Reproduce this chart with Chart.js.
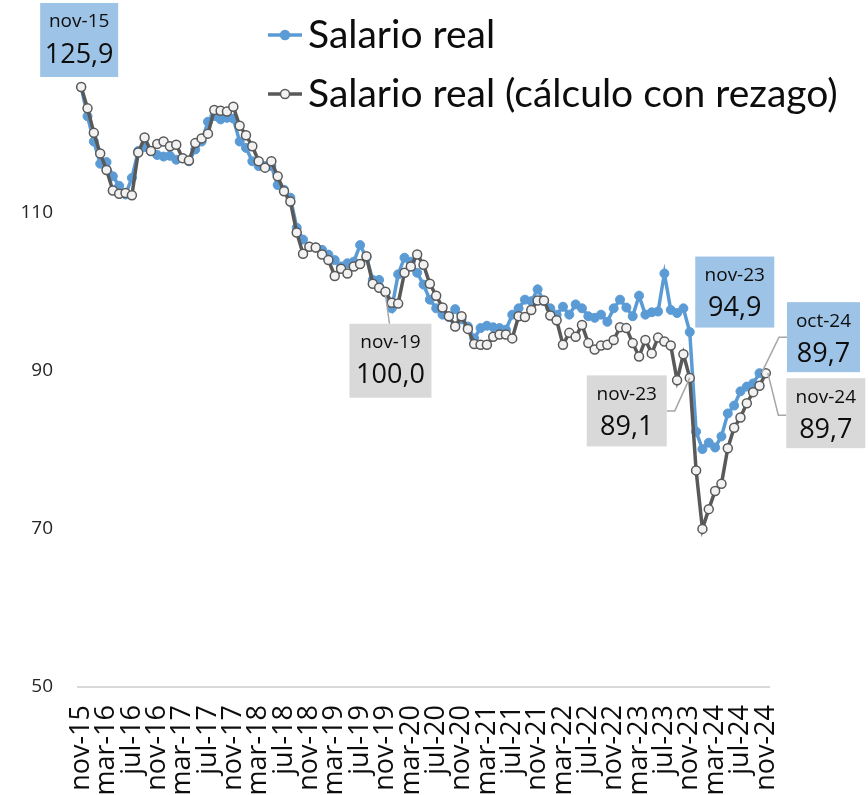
<!DOCTYPE html>
<html>
<head>
<meta charset="utf-8">
<script src="https://cdn.jsdelivr.net/npm/chart.js@4/dist/chart.umd.min.js"></script>
<style>
  body { margin: 0; background: #fff; }
  #wrap { width: 868px; height: 795px; }
</style>
</head>
<body>
<div id="wrap"><canvas id="myChart" width="868" height="795"></canvas></div>
<script>
// Month names used to build the category labels (nov-15 ... nov-24)
var monthNames = ['ene', 'feb', 'mar', 'abr', 'may', 'jun', 'jul', 'ago', 'sep', 'oct', 'nov', 'dic'];
var startMonth = 10, startYear = 15, nMonths = 109;

// Salario real (blue), nov-15 .. oct-24
var salarioReal = [
  125.9, 122.2, 119.0, 116.2, 116.4, 114.6, 113.4, 112.3, 114.4, 117.8, 118.3, 117.8,
  117.3, 117.1, 117.2, 116.7, 116.9, 116.5, 118.0, 119.0, 121.5, 122.2, 121.8, 122.0,
  121.9, 119.0, 118.2, 116.5, 115.9, 115.9, 115.9, 113.5, 112.9, 111.9, 108.1, 106.6,
  105.7, 105.6, 105.3, 104.7, 104.0, 103.2, 103.6, 103.8, 105.9, 104.3, 101.5, 101.5,
  99.9, 97.9, 102.2, 104.3, 103.8, 102.4, 100.9, 99.0, 97.9, 97.1, 96.8, 97.8,
  96.5, 95.6, 94.1, 95.4, 95.7, 95.5, 95.4, 95.2, 97.1, 97.9, 99.0, 98.8,
  100.3, 98.8, 97.9, 97.1, 98.1, 97.1, 98.4, 97.9, 96.9, 96.7, 97.1, 96.2,
  97.9, 99.0, 98.0, 96.9, 99.5, 97.1, 97.4, 97.5, 102.3, 97.7, 97.3, 97.9,
  94.9, 82.3, 80.1, 80.9, 80.3, 81.7, 84.6, 85.6, 87.4, 88.0, 88.4, 89.7
];

// Salario real (calculo con rezago) (gray), nov-15 .. nov-24
var salarioRezago = [
  125.9, 123.2, 120.1, 117.5, 115.4, 112.8, 112.4, 112.5, 112.2, 117.6, 119.5, 117.8,
  118.7, 119.0, 118.4, 118.6, 116.9, 116.6, 118.8, 119.4, 120.0, 123.0, 122.9, 122.8,
  123.4, 121.0, 119.8, 118.4, 116.5, 115.7, 116.5, 114.6, 112.7, 111.4, 107.5, 104.8,
  105.7, 105.6, 104.7, 104.0, 102.0, 102.9, 102.3, 103.2, 103.5, 104.5, 101.0, 100.5,
  100.0, 98.6, 98.5, 102.4, 103.2, 104.7, 103.4, 101.0, 99.5, 98.0, 96.9, 95.6,
  96.9, 95.3, 93.4, 93.3, 93.3, 94.3, 94.6, 94.6, 94.1, 96.9, 96.8, 97.7,
  98.9, 98.9, 97.0, 96.4, 93.3, 94.8, 94.3, 95.8, 93.5, 92.7, 93.2, 93.3,
  93.9, 95.5, 95.4, 93.5, 91.8, 93.9, 92.2, 94.2, 93.7, 93.2, 88.8, 92.1,
  89.1, 77.4, 70.0, 72.5, 74.8, 75.7, 80.2, 82.8, 84.1, 85.9, 87.3, 88.1, 89.7
];

var yTicks = [50, 70, 90, 110];

var seriesNames = ['Salario real', 'Salario real (cálculo con rezago)'];

// Callouts: [dataset, index, label, value text, box colour]
var callouts = [
  [0, 0, 'nov-15', '125,9', '#9dc3e6'],
  [1, 48, 'nov-19', '100,0', '#d9d9d9'],
  [0, 96, 'nov-23', '94,9', '#9dc3e6'],
  [1, 96, 'nov-23', '89,1', '#d9d9d9'],
  [0, 107, 'oct-24', '89,7', '#9dc3e6'],
  [1, 108, 'nov-24', '89,7', '#d9d9d9']
];
// box placement relative to the point: dx, dy (centre), w, h, leader type
var calloutLayout = [
  {dx: -2, dy: -47, w: 78, h: 74, leader: null},
  {dx: 5, dy: 69, w: 82, h: 74, leader: 'top'},
  {dx: 45, dy: -40, w: 79, h: 71, leader: null},
  {dx: -63, dy: 33, w: 80, h: 71, leader: 'left'},
  {dx: 64, dy: -36, w: 73, h: 70, leader: 'right'},
  {dx: 60, dy: 40, w: 79, h: 70, leader: 'right'}
];

var labels = [];
for (var i = 0; i < nMonths; i++) {
  var m = (startMonth + i) % 12;
  var y = startYear + Math.floor((startMonth + i) / 12);
  labels.push(monthNames[m] + '-' + y);
}

var blue = '#5b9bd5', gray = '#595959';

// Draws the boxed value labels with their leader lines
var calloutPlugin = {
  id: 'callouts',
  afterDatasetsDraw: function(chart) {
    var ctx = chart.ctx;
    ctx.save();
    for (var k = 0; k < callouts.length; k++) {
      var c = callouts[k], L = calloutLayout[k];
      var pt = chart.getDatasetMeta(c[0]).data[c[1]];
      var px = pt.x, py = pt.y;
      var cx = px + L.dx, cy = py + L.dy;
      var left = cx - L.w / 2, top = cy - L.h / 2;

      ctx.strokeStyle = '#a6a6a6';
      ctx.lineWidth = 1.5;
      if (L.leader === 'top') {
        ctx.beginPath(); ctx.moveTo(px, py + 3); ctx.lineTo(cx - 1, top); ctx.stroke();
      } else if (L.leader === 'left') {
        ctx.beginPath(); ctx.moveTo(px, py); ctx.lineTo(left + L.w + 8, cy); ctx.lineTo(left + L.w, cy); ctx.stroke();
      } else if (L.leader === 'right') {
        ctx.beginPath(); ctx.moveTo(px + 2, py); ctx.lineTo(left - 8, cy + (L.dy > 0 ? 2 : 0)); ctx.lineTo(left, cy + (L.dy > 0 ? 2 : 0)); ctx.stroke();
      }

      ctx.fillStyle = c[4];
      ctx.fillRect(left, top, L.w, L.h);
      ctx.fillStyle = '#0d0d0d';
      ctx.textAlign = 'center';
      ctx.textBaseline = 'middle';
      ctx.font = '19px "Open Sans"';
      ctx.fillText(c[2], cx, top + 19);
      ctx.font = '27px "Open Sans"';
      ctx.fillText(c[3], cx, top + 52);
    }
    ctx.restore();
  }
};

// Legend drawn over the plot area, top centre-right
var legendPlugin = {
  id: 'topLegend',
  afterDraw: function(chart) {
    var ctx = chart.ctx;
    var rows = [35, 94];
    ctx.save();
    for (var k = 0; k < 2; k++) {
      var ds = chart.data.datasets[k];
      var yy = rows[k];
      ctx.strokeStyle = ds.borderColor;
      ctx.lineWidth = 3.5;
      ctx.beginPath(); ctx.moveTo(268, yy); ctx.lineTo(302, yy); ctx.stroke();
      ctx.beginPath();
      ctx.arc(285, yy, 4.5, 0, Math.PI * 2);
      ctx.fillStyle = ds.pointBackgroundColor;
      ctx.fill();
      ctx.lineWidth = 1.5;
      ctx.strokeStyle = ds.pointBorderColor;
      ctx.stroke();
      ctx.fillStyle = '#0d0d0d';
      ctx.font = '39px Lato';
      ctx.textAlign = 'left';
      ctx.textBaseline = 'middle';
      ctx.fillText(ds.label, 308, yy);
    }
    ctx.restore();
  }
};

function drawChart() {
  var ctx = document.getElementById('myChart').getContext('2d');
  var myChart = new Chart(ctx, {
    type: 'line',
    data: {
      labels: labels,
      datasets: [{
        label: seriesNames[0],
        data: salarioReal,
        borderColor: blue,
        backgroundColor: blue,
        borderWidth: 3.5,
        pointRadius: 4.5,
        pointBackgroundColor: blue,
        pointBorderColor: blue,
        pointBorderWidth: 1,
        tension: 0,
        order: 2
      }, {
        label: seriesNames[1],
        data: salarioRezago,
        borderColor: gray,
        backgroundColor: gray,
        borderWidth: 3.5,
        pointRadius: 4.5,
        pointBackgroundColor: '#f2f2f2',
        pointBorderColor: gray,
        pointBorderWidth: 1.5,
        tension: 0,
        order: 1
      }]
    },
    options: {
      responsive: false,
      animation: false,
      layout: { padding: { top: 16, right: 99, left: 0, bottom: 0 } },
      plugins: {
        legend: { display: false },
        tooltip: { enabled: false }
      },
      scales: {
        x: {
          offset: true,
          grid: { display: false, drawTicks: false },
          border: { display: true, color: '#d9d9d9', width: 2 },
          ticks: {
            autoSkip: false,
            minRotation: 90,
            maxRotation: 90,
            padding: 18,
            color: '#0d0d0d',
            font: { family: 'Open Sans', size: 27 },
            callback: function(value, index) {
              return index % 4 === 0 ? labels[index] : '';
            }
          },
          afterFit: function(scale) { scale.height = 108; }
        },
        y: {
          min: 50,
          max: 132.3,
          grid: { display: false, drawTicks: false },
          border: { display: false },
          ticks: {
            padding: 25,
            color: '#262626',
            font: { family: 'Open Sans', size: 19 }
          },
          afterBuildTicks: function(scale) {
            scale.ticks = yTicks.map(function(v) { return { value: v }; });
          },
          afterFit: function(scale) { scale.width = 78; }
        }
      }
    },
    plugins: [calloutPlugin, legendPlugin]
  });
}

Promise.all([
  document.fonts.load('20px "Open Sans"'),
  document.fonts.load('39px Lato')
]).then(drawChart, drawChart);
</script>
</body>
</html>
